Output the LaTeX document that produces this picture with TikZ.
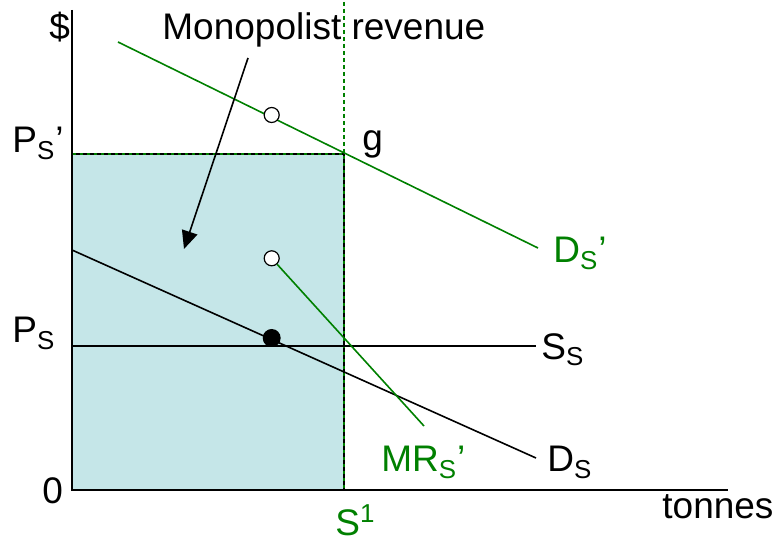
\documentclass[tikz,border=0pt]{standalone}
\usepackage{fontspec}
\setmainfont{Liberation Sans}
\usepackage{xcolor}
\usetikzlibrary{arrows.meta}
\definecolor{mGreen}{HTML}{008000}
\definecolor{mShade}{HTML}{C5E6E8}

\begin{document}
\begin{tikzpicture}[x=0.5pt, y=-0.5pt, font=\fontsize{18.5}{22}\selectfont,
  lbl/.style={inner sep=0pt, anchor=base west},
  curve/.style={line width=0.8pt},
  dashline/.style={line width=0.9pt, dash pattern=on 2pt off 1.5pt},
  opendot/.style={circle, draw, fill=white, line width=0.6pt, inner sep=0pt, minimum size=7.5pt},
  fulldot/.style={circle, fill, inner sep=0pt, minimum size=9pt}]
\useasboundingbox (0,0) rectangle (778,540);
% axes and frame points
\coordinate (o) at (72,490);
\coordinate (ytop) at (72,10);
\coordinate (xend) at (728,490);
\coordinate (py) at (72,154);
\coordinate (g) at (344,154);
\coordinate (s1) at (344,490);
\coordinate (vtop) at (344,2);
% revenue area
\fill[mShade] (o) rectangle (g);
\draw[mGreen, curve] (py) -- (g);
\draw[mGreen, dashline] (vtop) -- (s1);
\draw[dashline, dash phase=1.7pt] (py) -- (g) -- (s1);
\draw[line width=1pt] (ytop) -- (o) -- (xend);
% curves
\coordinate (dpa) at (118,42);  \coordinate (dpb) at (538,248);
\coordinate (dsa) at (72,250);  \coordinate (dsb) at (536,458);
\coordinate (ssa) at (72,346);  \coordinate (ssb) at (536,346);
\coordinate (mrb) at (424,426);
\draw[mGreen, curve] (dpa) -- (dpb);
\draw[curve] (dsa) -- (dsb);
\draw[curve] (ssa) -- (ssb);
\node[opendot] (mono) at (271.7,115) {};
\node[opendot] (mrtop) at (271.7,258.3) {};
\node[fulldot] (eq) at (271.7,338) {};
\draw[mGreen, curve] (mrtop) -- (mrb);
% labels
\node[lbl] (dollar) at (49,40) {\$};
\node[lbl] (pshigh) at (12,153) {P\textsubscript{S}’};
\node[lbl] (pslow) at (12,343) {P\textsubscript{S}};
\node[lbl] (zero) at (42,503) {0};
\node[lbl, mGreen] (sone) at (335,535) {S\textsuperscript{1}};
\node[lbl] (glbl) at (362,151) {g};
\node[lbl, mGreen] (dplbl) at (553,263) {D\textsubscript{S}’};
\node[lbl] (sslbl) at (541,359) {S\textsubscript{S}};
\node[lbl] (dslbl) at (547,472) {D\textsubscript{S}};
\node[lbl, mGreen] (mrlbl) at (381,472) {MR\textsubscript{S}’};
\node[lbl] (tonnes) at (662,518) {tonnes};
\node[lbl] (title) at (162,40) {Monopolist revenue};
% pointer
\coordinate (pa) at (248,58);
\coordinate (pb) at (184,249);
\draw[curve, -{Triangle[length=9pt,width=8pt]}] (pa) -- (pb);
\end{tikzpicture}
\end{document}
